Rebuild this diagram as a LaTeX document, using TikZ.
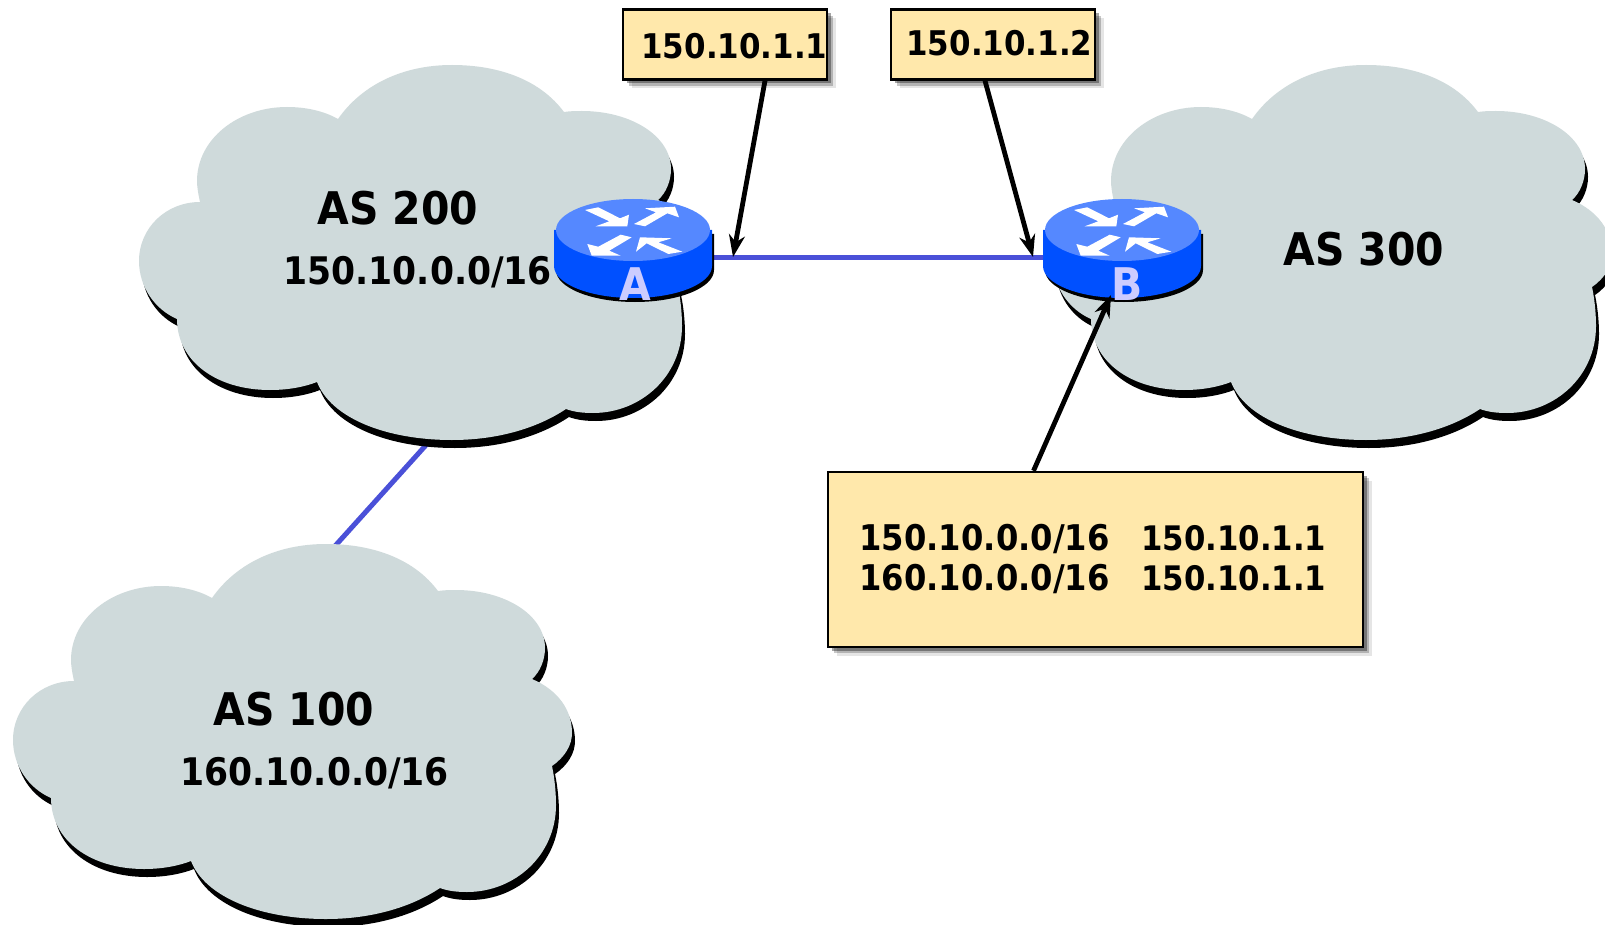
\documentclass[tikz,border=0pt]{standalone}
\usepackage{fontspec}
\usetikzlibrary{arrows.meta,shadows}
\newfontfamily\labelfont[FakeStretch=0.91]{DejaVu Sans}

\definecolor{cloudgrey}{HTML}{CFDADB}
\definecolor{notefill}{HTML}{FFE8AB}
\definecolor{linkblue}{HTML}{4A50D8}
\definecolor{routerbody}{HTML}{0050FF}
\definecolor{routertop}{HTML}{5588FF}
\definecolor{routerletter}{HTML}{CCCCFF}

\newcommand{\cloudoutline}{(212,598)
 .. controls (235,565) and (275,544) .. (326,544)
 .. controls (375,544) and (415,560) .. (438,591)
 .. controls (445,590) and (450,590) .. (456,590)
 .. controls (505,590) and (545,615) .. (545,648)
 .. controls (545,660) and (540,672) .. (532,679)
 .. controls (558,690) and (572,710) .. (572,733)
 .. controls (572,745) and (565,757) .. (552,766)
 .. controls (555,780) and (556,795) .. (556,805)
 .. controls (556,855) and (515,892) .. (467,892)
 .. controls (457,892) and (448,891) .. (440,888)
 .. controls (410,908) and (370,919) .. (326,919)
 .. controls (260,919) and (205,897) .. (191,861)
 .. controls (178,866) and (162,869) .. (144,869)
 .. controls (90,869) and (51,840) .. (51,798)
 .. controls (28,788) and (13,765) .. (13,740)
 .. controls (13,707) and (40,681) .. (74,681)
 .. controls (72,672) and (71,665) .. (71,660)
 .. controls (71,618) and (112,586) .. (161,586)
 .. controls (180,586) and (198,590) .. (212,598) -- cycle}

\tikzset{
  ascloud/.pic={
    \fill[black,shift={(3,8)}] \cloudoutline;
    \fill[cloudgrey] \cloudoutline;
  },
  router/.pic={
    \fill[black,shift={(2,4)}] (-79,-28) -- (-79,8) arc[start angle=180,end angle=0,x radius=79,y radius=32] -- (79,-28) -- cycle;
    \fill[routerbody] (-79,-28) -- (-79,8) arc[start angle=180,end angle=0,x radius=79,y radius=32] -- (79,-28) -- cycle;
    \fill[routertop] (0,-28) ellipse [x radius=77,y radius=31];
    \begin{scope}[yshift=14pt]
    \fill[white] (-48,-20) -- (-34.7,-22.7) -- (-13,-11.7) -- (-4,-15.3) -- (-5.7,-3.7) -- (-37.3,-3.7) -- (-23.7,-8.7) -- cycle;
    \fill[white] (1,-6) -- (23,-17.7) -- (12,-21.7) -- (42,-23.3) -- (46,-12.7) -- (34.3,-16.7) -- (12,-3.7) -- cycle;
    \fill[white] (-1.3,7.3) -- (-12.3,4.7) -- (-34.7,16.7) -- (-45.7,14) -- (-41.3,25.7) -- (-12.3,25.7) -- (-23.7,20.7) -- cycle;
    \fill[white] (49.3,21.7) -- (35.3,24) -- (13.7,13.3) -- (3,21.7) -- (7,7.3) -- (38.7,8.3) -- (25.3,12.3) -- cycle;
    \end{scope}
  },
  txt/.style={inner sep=0pt,anchor=base west,text=black,font=\labelfont\bfseries},
  asname/.style={txt,font=\labelfont\bfseries\fontsize{22.5}{26}\selectfont},
  netname/.style={txt,font=\labelfont\bfseries\fontsize{19}{22}\selectfont},
  iptext/.style={txt,font=\labelfont\bfseries\fontsize{17}{20}\selectfont},
  tablenet/.style={txt,font=\labelfont\bfseries\fontsize{17.7}{20}\selectfont},
  tablehop/.style={txt,font=\labelfont\bfseries\fontsize{16.9}{20}\selectfont},
  letter/.style={inner sep=0pt,anchor=base,text=routerletter,font=\labelfont\bfseries\fontsize{22.5}{26}\selectfont},
  notebox/.style={draw=black,line width=1.2pt,fill=notefill,inner sep=0pt,
    drop shadow={shadow xshift=4.5pt,shadow yshift=-4.5pt,fill=black,opacity=.10},
    drop shadow={shadow xshift=3.2pt,shadow yshift=-3.2pt,fill=black,opacity=.22},
    drop shadow={shadow xshift=2pt,shadow yshift=-2pt,fill=black,opacity=.35}},
  link/.style={line width=2.5pt,linkblue},
  pointer/.style={line width=2.4pt,black,-{Stealth[length=11pt,width=8pt,inset=3.5pt]},shorten >=0pt}
}

\begin{document}
\begin{tikzpicture}[x=0.5pt,y=-0.5pt]
\useasboundingbox (0,0) rectangle (1605,925);

\coordinate (as200port) at (436,434);
\coordinate (as100port) at (326,556);
\draw[link] (as200port) -- (as100port);

\pic at (0,0) {ascloud};
\pic at (126,-479) {ascloud};
\pic at (1040,-479) {ascloud};

\coordinate (routerA) at (633,258);
\coordinate (routerB) at (1122,258);
\draw[link] (routerA) -- (routerB);
\pic at (routerA) {router};
\pic at (routerB) {router};

\node[letter] (letterA) at (635,300) {A};
\node[letter] (letterB) at (1127,300) {B};

\node[asname] (as200) at (317,225) {AS 200};
\node[netname] (net200) at (283,285) {150.10.0.0/16};
\node[asname] (as300) at (1283,265) {AS 300};
\node[asname] (as100) at (213,725) {AS 100};
\node[netname] (net100) at (180,785) {160.10.0.0/16};

\node[notebox,minimum width=102pt,minimum height=35pt] (noteA) at (725,44.5) {};
\node[notebox,minimum width=102pt,minimum height=35pt] (noteB) at (993,44.5) {};
\node[notebox,minimum width=267.5pt,minimum height=87.5pt] (noteT) at (1095.5,559.5) {};

\node[iptext] (ipA) at (641,59) {150.10.1.1};
\node[iptext] (ipB) at (906,56) {150.10.1.2};
\node[tablenet] (rowAnet) at (859,550) {150.10.0.0/16};
\node[tablehop] (rowAhop) at (1141,550) {150.10.1.1};
\node[tablenet] (rowBnet) at (859,590) {160.10.0.0/16};
\node[tablehop] (rowBhop) at (1141,590) {150.10.1.1};

\coordinate (tipA) at (733,257);
\coordinate (tipB) at (1033,257);
\coordinate (tipT) at (1111,295);
\draw[pointer] ([xshift=20pt]noteA.south) -- (tipA);
\draw[pointer] ([xshift=-4pt]noteB.south) -- (tipB);
\draw[pointer] ([xshift=-31pt]noteT.north) -- (tipT);
\end{tikzpicture}
\end{document}
